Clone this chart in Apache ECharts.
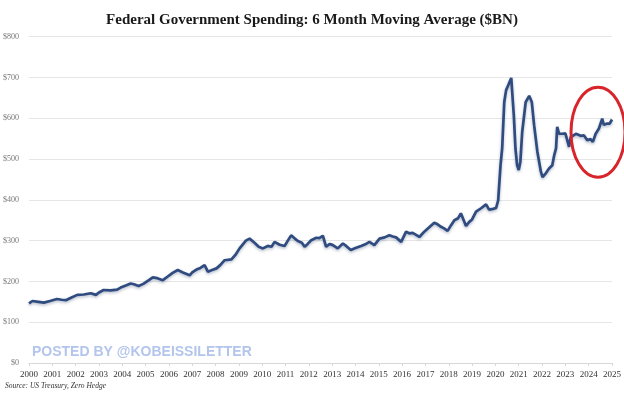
<!DOCTYPE html>
<html>
<head>
<meta charset="utf-8">
<script src="https://cdn.jsdelivr.net/npm/echarts@6/dist/echarts.min.js"></script>
<style>
html,body{margin:0;padding:0;background:#fff;}
#c{width:624px;height:395px;}
</style>
</head>
<body>
<div id="c"></div>
<script>
var titleText = 'Federal Government Spending: 6 Month Moving Average ($BN)';
var yearTicks = [2000,2001,2002,2003,2004,2005,2006,2007,2008,2009,2010,2011,2012,2013,2014,2015,2016,2017,2018,2019,2020,2021,2022,2023,2024,2025];
var yTicks = [0,100,200,300,400,500,600,700,800];
var dates = [
2000.0,2000.15,2000.4,2000.64,2000.9,2001.2,2001.4,2001.58,2001.8,2002.07,2002.35,2002.65,2002.87,2003.0,2003.2,2003.5,2003.78,2003.93,2004.15,2004.36,2004.5,2004.7,2004.9,
2005.14,2005.31,2005.5,2005.74,2005.95,2006.16,2006.38,2006.6,2006.89,2007.0,2007.18,2007.35,2007.53,2007.67,2007.85,2008.04,2008.2,2008.39,2008.68,2008.85,2009.03,2009.17,2009.3,2009.46,2009.67,2009.85,
2010.03,2010.24,2010.4,2010.53,2010.75,2010.96,2011.1,2011.24,2011.4,2011.53,2011.7,2011.82,2011.95,2012.1,2012.32,2012.45,2012.6,2012.74,2012.9,2013.03,2013.24,2013.46,2013.6,2013.8,2014.0,2014.24,2014.45,2014.6,2014.81,
2015.03,2015.25,2015.45,2015.6,2015.74,2015.96,2016.17,2016.3,2016.45,2016.6,2016.74,2016.95,2017.15,2017.38,2017.52,2017.67,2017.8,2017.95,2018.1,2018.24,2018.4,2018.52,2018.74,2018.88,2019.0,2019.17,2019.4,2019.6,2019.73,2019.9,
2020.03,2020.12,2020.22,2020.29,2020.38,2020.46,2020.55,2020.6,2020.68,2020.72,2020.79,2020.86,2020.93,2021.0,2021.07,2021.15,2021.3,2021.45,2021.56,2021.66,2021.8,2021.95,2022.02,2022.16,2022.3,2022.44,2022.52,2022.6,2022.65,2022.73,2022.87,
2023.0,2023.08,2023.16,2023.23,2023.45,2023.66,2023.8,2023.94,2024.08,2024.18,2024.3,2024.44,2024.58,2024.65,2024.8,2024.9,2025.0
];
var spending = [
146,152,150,148,152,157,155,154,160,167,168,171,167,173,179,178,180,185,190,195,193,189,194,
203,210,208,203,212,221,228,222,215,222,229,233,240,224,228,232,240,252,254,265,281,291,300,305,295,285,
281,287,285,297,290,287,300,313,305,299,295,285,292,301,307,306,312,285,292,289,281,293,287,277,282,287,292,297,289,
305,308,313,310,308,297,322,318,319,314,309,322,332,344,340,334,330,324,338,350,355,367,336,346,352,371,380,389,376,378,
380,399,485,526,640,669,681,680,699,665,607,526,485,473,493,567,640,655,640,583,518,469,456,465,477,485,509,526,579,562,562,
563,562,530,554,562,557,558,546,549,542,562,575,599,584,587,587,597
];
var circleCenter = [2024.4, 566];

var seriesData = dates.map(function(d,i){return [d, spending[i]];});

var chart = echarts.init(document.getElementById('c'), null, {renderer:'canvas'});
chart.setOption({
  animation:false,
  backgroundColor:'#ffffff',
  title:{
    text:titleText,
    left:'center', top:8,
    textStyle:{fontFamily:'Liberation Serif', fontWeight:'bold', fontSize:15, color:'#1a1a1a'}
  },
  grid:{left:29, right:11, top:36.7, bottom:32, containLabel:false},
  xAxis:{
    type:'value', min:2000, max:2025, interval:1,
    axisLine:{show:true, lineStyle:{color:'#d8d8d8', width:1}},
    axisTick:{show:true, length:3, lineStyle:{color:'#d8d8d8'}},
    splitLine:{show:false},
    axisLabel:{
      fontFamily:'Liberation Serif', fontSize:9, color:'#333', margin:7,
      formatter:function(v){ var i = yearTicks.indexOf(Math.round(v)); return i>=0 ? String(yearTicks[i]) : ''; }
    }
  },
  yAxis:{
    type:'value', min:0, max:800, interval:100,
    axisLine:{show:false}, axisTick:{show:false},
    splitLine:{lineStyle:{color:'#e6e6e6', width:1}},
    axisLabel:{
      fontFamily:'Liberation Serif', fontSize:8, color:'#777', margin:10,
      formatter:function(v){ return yTicks.indexOf(v)>=0 ? '$'+v : ''; }
    }
  },
  series:[{
    type:'line',
    data:seriesData,
    showSymbol:false,
    smooth:false,
    lineStyle:{color:'#2f4b7f', width:2.7, shadowColor:'rgba(40,60,100,0.35)', shadowBlur:3, shadowOffsetY:1.5},
    z:3
  }]
});

var cp = chart.convertToPixel({gridIndex:0}, circleCenter);
chart.setOption({
  graphic:[
    {type:'text', left:32, top:345, style:{text:'POSTED BY @KOBEISSILETTER', font:'bold 14px "Liberation Sans", Arial, sans-serif', fill:'#b3c5ec'}, z:10},
    {type:'text', left:5, top:382, style:{text:'Source: US Treasury, Zero Hedge', font:'italic 7.5px "Liberation Serif", serif', fill:'#333'}, z:10},
    {type:'ellipse', shape:{cx:cp[0], cy:cp[1], rx:27, ry:45}, style:{fill:'none', stroke:'#d8252b', lineWidth:3}, z:10}
  ]
});
</script>
</body>
</html>
